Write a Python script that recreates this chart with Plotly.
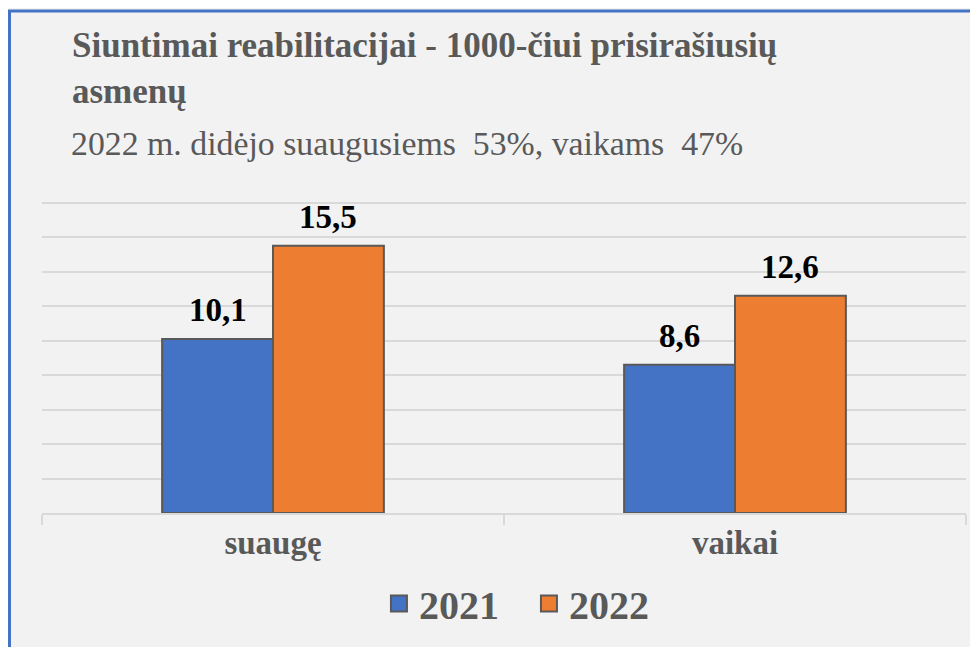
import plotly.graph_objects as go

categories = ["suaugę", "vaikai"]
years = ["2021", "2022"]
values_2021 = [10.1, 8.6]
values_2022 = [15.5, 12.6]
colors = ["#4472C4", "#ED7D31"]

title_text = "Siuntimai reabilitacijai - 1000-čiui prisirašiusių<br>asmenų"
subtitle_text = "2022 m. didėjo suaugusiems\u00a0 53%, vaikams\u00a0 47%"

SERIF = "Liberation Serif"
GRAY = "#595959"

# plot-area geometry (svg pixels)
W, H = 978, 647
L, R, T, B = 34, 20, 193, 142
PW, PH = W - L - R, H - T - B
GROUP_FRAC = 0.48
bar_px = PW / len(categories) * GROUP_FRAC / 2

fig = go.Figure()
series = [values_2021, values_2022]
for name, vals, col in zip(years, series, colors):
    fig.add_trace(go.Bar(
        x=categories, y=vals, name=name, showlegend=False,
        marker=dict(color=col, line=dict(color=GRAY, width=2)),
    ))
# legend entries with larger square symbols
for name, col in zip(years, colors):
    fig.add_trace(go.Scatter(
        x=[None], y=[None], name=name, mode="markers",
        marker=dict(symbol="square", size=21, color=col, line=dict(color=GRAY, width=2)),
    ))

# value labels above bars
for i, (vals, sign) in enumerate(zip(series, [-1, 1])):
    for cat, v in zip(categories, vals):
        fig.add_annotation(
            x=cat, y=v, xref="x", yref="y", showarrow=False,
            text=f"{v:.1f}".replace(".", ","), xanchor="center", yanchor="bottom",
            xshift=sign * bar_px / 2, yshift=9,
            font=dict(family=SERIF, size=33, color="#000000", weight="bold"),
        )

fig.update_layout(
    width=W, height=H,
    paper_bgcolor="#F2F2F2", plot_bgcolor="#F2F2F2",
    margin=dict(l=L, r=R, t=T, b=B, autoexpand=False),
    barmode="group", bargap=1 - GROUP_FRAC, bargroupgap=0,
    title=dict(text=title_text, xref="container", yref="container",
               x=64 / W, xanchor="left", y=1 - 49 / H, yanchor="middle",
               font=dict(family=SERIF, size=35, color=GRAY, weight="bold")),
    legend=dict(orientation="h", x=0.527, xanchor="center", y=-0.29, yanchor="middle",
                font=dict(family=SERIF, size=40, color=GRAY, weight="bold"),
                bgcolor="rgba(0,0,0,0)", itemwidth=30, tracegroupgap=0,
                entrywidth=105),
    showlegend=True,
)

fig.update_yaxes(range=[0, 18.1], dtick=2, showticklabels=False, showgrid=True,
                 gridcolor="#D9D9D9", gridwidth=1.5, zeroline=False, showline=False)
fig.update_xaxes(showline=True, linecolor="#D9D9D9", linewidth=1.5,
                 ticks="outside", tickson="boundaries", ticklen=10, tickcolor="#D9D9D9",
                 tickwidth=1.5, range=[-0.5, 1.5],
                 tickfont=dict(family=SERIF, size=33, color=GRAY, weight="bold"))

fig.add_annotation(text=subtitle_text, xref="paper", yref="paper",
                   x=(61 - L) / PW, xanchor="left", y=(H - B - 135) / PH, yanchor="middle",
                   showarrow=False,
                   font=dict(family=SERIF, size=33.8, color=GRAY))

fig.add_shape(type="rect", xref="paper", yref="paper",
              x0=(1.5 - L) / PW, x1=1.2, y0=-0.6, y1=(H - B - 3) / PH,
              line=dict(color="#4472C4", width=3), layer="above")

fig.write_html("out.html")
